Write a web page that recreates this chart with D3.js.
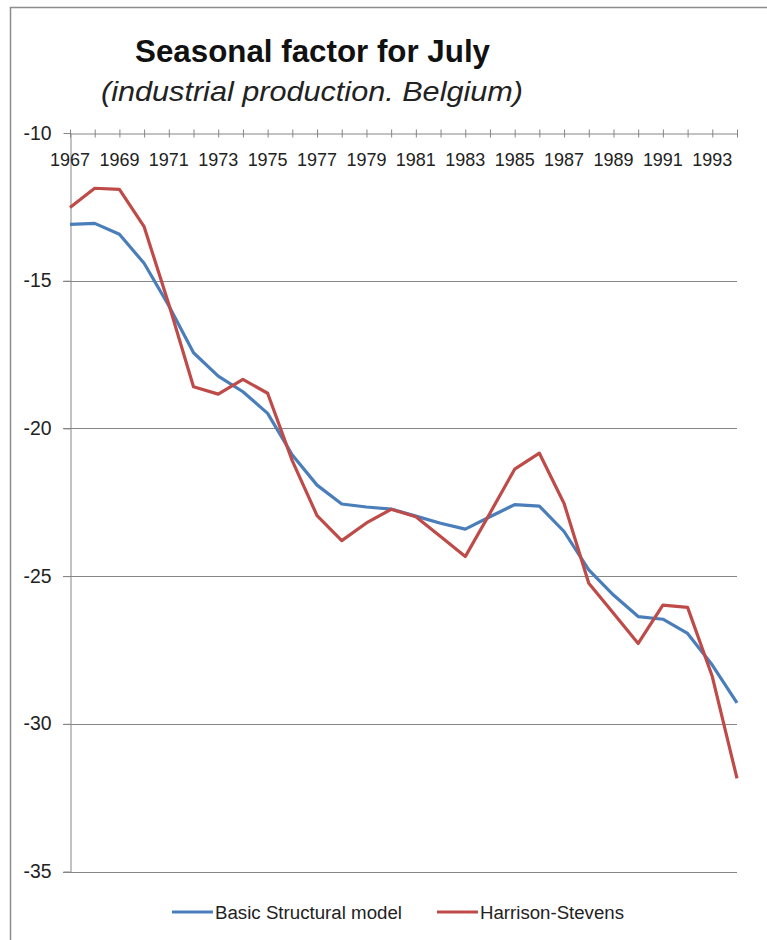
<!DOCTYPE html>
<html>
<head>
<meta charset="utf-8">
<script src="https://cdn.jsdelivr.net/npm/d3@7"></script>
<style>
  body { margin: 0; background: #fff; }
  text { font-family: "Liberation Sans", Arial, sans-serif; fill: #222; }
</style>
</head>
<body>
<svg width="767" height="940"></svg>
<script>
// data
var years = d3.range(1967, 1995);
var yearLabels = [1967, 1969, 1971, 1973, 1975, 1977, 1979, 1981, 1983, 1985, 1987, 1989, 1991, 1993];
var yTicks = [-10, -15, -20, -25, -30, -35];

var basicStructural = [-13.09, -13.06, -13.43, -14.41, -15.85, -17.44, -18.23, -18.76, -19.49, -20.9,
  -21.92, -22.56, -22.66, -22.73, -22.97, -23.21, -23.41, -22.99, -22.58, -22.63,
  -23.49, -24.79, -25.64, -26.37, -26.46, -26.94, -28.01, -29.29];
var harrisonStevens = [-12.52, -11.87, -11.91, -13.17, -15.8, -18.59, -18.84, -18.34, -18.81, -21.1,
  -22.95, -23.8, -23.2, -22.74, -22.99, -23.66, -24.34, -22.87, -21.38, -20.84,
  -22.54, -25.24, -26.26, -27.28, -25.98, -26.06, -28.4, -31.85];

var seriesNames = ["Basic Structural model", "Harrison-Stevens"];
var seriesColors = ["#4a7ebb", "#be4b48"];

var svg = d3.select("svg");

// outer chart frame (right and bottom edges fall outside the picture)
svg.append("rect")
  .attr("x", 10.5).attr("y", 7.5)
  .attr("width", 800).attr("height", 1000)
  .attr("fill", "none").attr("stroke", "#8c8c8c").attr("stroke-width", 1.5);

var x = d3.scaleLinear().domain([1967, 1994]).range([70, 737]);
var y = d3.scaleLinear().domain([-10, -35]).range([133, 871.5]);

// title
svg.append("text")
  .attr("x", 135).attr("y", 62)
  .attr("textLength", 355).attr("lengthAdjust", "spacingAndGlyphs")
  .style("font-size", "32px").style("font-weight", "bold").style("fill", "#111")
  .text("Seasonal factor for July");
svg.append("text")
  .attr("x", 101).attr("y", 101)
  .attr("textLength", 422).attr("lengthAdjust", "spacingAndGlyphs")
  .style("font-size", "28px").style("font-style", "italic")
  .text("(industrial production. Belgium)");

// gridlines
svg.append("g").selectAll("line")
  .data(yTicks.slice(1))
  .enter().append("line")
    .attr("x1", 63).attr("x2", 737)
    .attr("y1", function(d) { return Math.round(y(d)) + 0.5; })
    .attr("y2", function(d) { return Math.round(y(d)) + 0.5; })
    .attr("stroke", "#868686").attr("stroke-width", 1);

// y axis
var yAxis = svg.append("g")
  .attr("transform", "translate(70.5,0)")
  .call(d3.axisLeft(y).tickValues(yTicks).tickSize(7).tickSizeOuter(0).tickPadding(12)
    .tickFormat(function(d) { return String(d); }));
yAxis.select(".domain").attr("stroke", "#868686");
yAxis.selectAll(".tick line").attr("stroke", "#868686");
yAxis.selectAll(".tick text")
  .style("font-size", "20px").style("font-family", "Liberation Sans, Arial, sans-serif")
  .attr("textLength", 28).attr("lengthAdjust", "spacingAndGlyphs")
  .attr("fill", "#222").attr("dy", "0.3em");

// x axis along the top (y = -10)
var xAxis = svg.append("g")
  .attr("transform", "translate(0,133.5)")
  .call(d3.axisBottom(x).tickValues(years).tickSize(0).tickFormat(""));
xAxis.select(".domain").attr("stroke", "#868686");
xAxis.selectAll(".tick line").attr("y1", -4).attr("y2", 4).attr("stroke", "#868686");
svg.append("g").selectAll("text")
  .data(yearLabels)
  .enter().append("text")
    .attr("x", function(d) { return x(d); })
    .attr("y", 166)
    .attr("text-anchor", "middle")
    .attr("textLength", 40).attr("lengthAdjust", "spacingAndGlyphs")
    .style("font-size", "19px")
    .text(function(d) { return d; });

// lines
var line = d3.line()
  .x(function(d, i) { return x(years[i]); })
  .y(function(d) { return y(d); });

[basicStructural, harrisonStevens].forEach(function(s, i) {
  svg.append("path")
    .datum(s)
    .attr("d", line)
    .attr("fill", "none")
    .attr("stroke", seriesColors[i])
    .attr("stroke-width", 3.2)
    .attr("stroke-linejoin", "round");
});

// legend
var legendX = [172, 437];
var legendW = [187, 144];
var legend = svg.append("g").selectAll("g")
  .data(seriesNames)
  .enter().append("g")
    .attr("transform", function(d, i) { return "translate(" + legendX[i] + ",912)"; });
legend.append("line")
  .attr("x1", 0).attr("x2", 41)
  .attr("stroke", function(d, i) { return seriesColors[i]; })
  .attr("stroke-width", 3.2);
legend.append("text")
  .attr("x", 43).attr("y", 6.5)
  .attr("textLength", function(d, i) { return legendW[i]; })
  .attr("lengthAdjust", "spacingAndGlyphs")
  .style("font-size", "18px")
  .text(function(d) { return d; });
</script>
</body>
</html>
